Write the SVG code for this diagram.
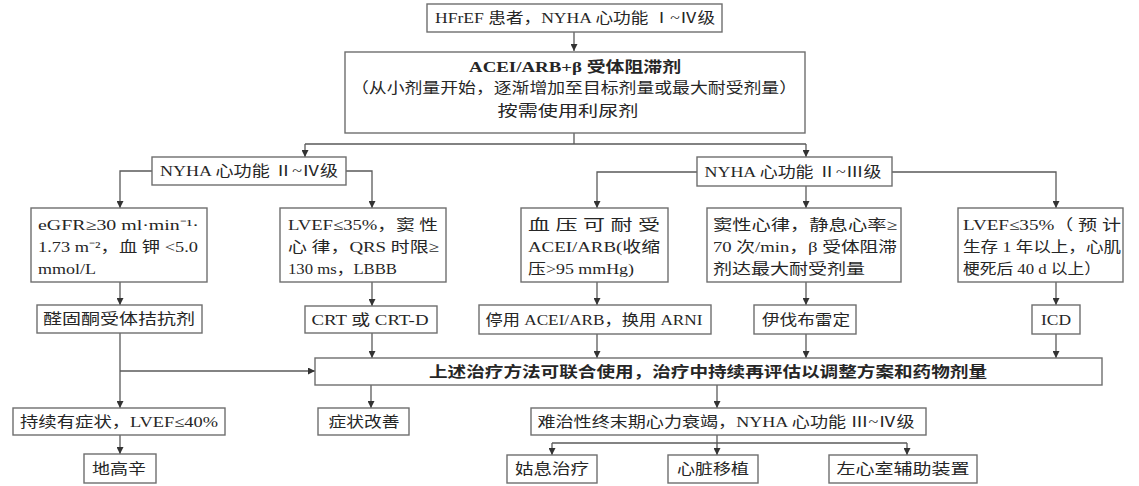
<svg xmlns="http://www.w3.org/2000/svg" width="1139" height="486" viewBox="0 0 1139 486">
<defs>
<marker id="ah" markerWidth="7" markerHeight="7" refX="7" refY="3.5" orient="auto" markerUnits="userSpaceOnUse">
<path d="M0,0 L7,3.5 L0,7 z" fill="#333"/>
</marker>
<style>
rect{fill:#fff;stroke:#6e6e6e;stroke-width:1.4}
text{font-family:"Liberation Serif","Noto Sans CJK SC",serif;font-size:15px;fill:#262626}
.c{text-anchor:middle}
.b{font-weight:bold}
#edges path{fill:none;stroke:#5a5a5a;stroke-width:1.3}
.a{marker-end:url(#ah)}
</style>
</defs>
<rect x="0" y="0" width="1139" height="486" style="fill:#fff;stroke:none"/>
<g id="edges">
<path class="a" d="M574,32 V51"/>
<path d="M574,133 V144 M305,144 H806"/>
<path class="a" d="M305,144 V157"/>
<path class="a" d="M806,144 V157"/>
<path class="a" d="M152,171 H120 V208"/>
<path class="a" d="M346,171 H372 V208"/>
<path class="a" d="M697,172 H597 V208"/>
<path class="a" d="M892,172 H1056 V208"/>
<path class="a" d="M806,186 V208"/>
<path class="a" d="M120,282 V305"/>
<path class="a" d="M372,282 V306"/>
<path class="a" d="M597,282 V305"/>
<path class="a" d="M806,282 V305"/>
<path class="a" d="M1056,282 V305"/>
<path class="a" d="M372,333 V358"/>
<path class="a" d="M597,334 V358"/>
<path class="a" d="M806,334 V358"/>
<path class="a" d="M1056,334 V358"/>
<path class="a" d="M120,333 V408"/>
<path class="a" d="M120,371 H315"/>
<path class="a" d="M120,435 V454"/>
<path class="a" d="M371,385 V408"/>
<path class="a" d="M717,385 V408"/>
<path class="a" d="M717,435 V455"/>
<path d="M552,443 H907"/>
<path class="a" d="M552,443 V455"/>
<path class="a" d="M907,443 V455"/>
</g>
<g id="n1"><rect x="427" y="4" width="295" height="28"/><text class="c" x="575" y="23" textLength="280" lengthAdjust="spacingAndGlyphs">HFrEF 患者，NYHA 心功能 Ⅰ~Ⅳ级</text></g>
<g id="n2"><rect x="345" y="52" width="460" height="81"/>
<text class="c b" x="575" y="72" textLength="212" lengthAdjust="spacingAndGlyphs">ACEI/ARB+β 受体阻滞剂</text>
<text class="c" x="574" y="93" textLength="446" lengthAdjust="spacingAndGlyphs">（从小剂量开始，逐渐增加至目标剂量或最大耐受剂量）</text>
<text class="c" x="568" y="116" textLength="141" lengthAdjust="spacingAndGlyphs">按需使用利尿剂</text></g>
<g id="n3"><rect x="152" y="157" width="194" height="28"/><text class="c" x="249" y="176" textLength="178" lengthAdjust="spacingAndGlyphs">NYHA 心功能 Ⅱ~Ⅳ级</text></g>
<g id="n4"><rect x="697" y="157" width="195" height="29"/><text class="c" x="793" y="177" textLength="177" lengthAdjust="spacingAndGlyphs">NYHA 心功能 Ⅱ~Ⅲ级</text></g>
<g id="n5"><rect x="31" y="208" width="176" height="74"/>
<text x="38" y="230" textLength="161" lengthAdjust="spacingAndGlyphs">eGFR≥30 ml·min⁻¹·</text>
<text x="38" y="252" textLength="160" lengthAdjust="spacingAndGlyphs">1.73  m⁻²，血 钾 &lt;5.0</text>
<text x="38" y="274" textLength="58" lengthAdjust="spacingAndGlyphs">mmol/L</text></g>
<g id="n6"><rect x="280" y="208" width="166" height="74"/>
<text x="288" y="230" textLength="150" lengthAdjust="spacingAndGlyphs">LVEF≤35%，窦 性</text>
<text x="288" y="252" textLength="151" lengthAdjust="spacingAndGlyphs">心 律，QRS 时限≥</text>
<text x="288" y="274" textLength="109" lengthAdjust="spacingAndGlyphs">130 ms，LBBB</text></g>
<g id="n7"><rect x="521" y="208" width="147" height="74"/>
<text x="528" y="230" textLength="132" lengthAdjust="spacingAndGlyphs">血 压 可 耐 受</text>
<text x="528" y="252" textLength="132" lengthAdjust="spacingAndGlyphs">ACEI/ARB(收缩</text>
<text x="528" y="274" textLength="106" lengthAdjust="spacingAndGlyphs">压&gt;95 mmHg)</text></g>
<g id="n8"><rect x="707" y="208" width="194" height="74"/>
<text x="713" y="230" textLength="184" lengthAdjust="spacingAndGlyphs">窦性心律，静息心率≥</text>
<text x="713" y="252" textLength="184" lengthAdjust="spacingAndGlyphs">70 次/min，β 受体阻滞</text>
<text x="713" y="274" textLength="152" lengthAdjust="spacingAndGlyphs">剂达最大耐受剂量</text></g>
<g id="n9"><rect x="958" y="208" width="165" height="74"/>
<text x="963" y="230" textLength="158" lengthAdjust="spacingAndGlyphs">LVEF≤35%（ 预 计</text>
<text x="963" y="252" textLength="158" lengthAdjust="spacingAndGlyphs">生存 1 年以上，心肌</text>
<text x="963" y="274" textLength="138" lengthAdjust="spacingAndGlyphs">梗死后 40 d 以上）</text></g>
<g id="n10"><rect x="37" y="305" width="165" height="28"/><text class="c" x="119" y="324" textLength="152" lengthAdjust="spacingAndGlyphs">醛固酮受体拮抗剂</text></g>
<g id="n11"><rect x="305" y="306" width="132" height="27"/><text class="c" x="370" y="325" textLength="117" lengthAdjust="spacingAndGlyphs">CRT 或 CRT-D</text></g>
<g id="n12"><rect x="479" y="305" width="232" height="29"/><text class="c" x="594" y="325" textLength="217" lengthAdjust="spacingAndGlyphs">停用 ACEI/ARB，换用 ARNI</text></g>
<g id="n13"><rect x="754" y="305" width="102" height="29"/><text class="c" x="806" y="325" textLength="88" lengthAdjust="spacingAndGlyphs">伊伐布雷定</text></g>
<g id="n14"><rect x="1032" y="305" width="48" height="29"/><text class="c" x="1056" y="325" textLength="30" lengthAdjust="spacingAndGlyphs">ICD</text></g>
<g id="n15"><rect x="315" y="358" width="787" height="27"/><text class="c b" x="708" y="377" textLength="558" lengthAdjust="spacingAndGlyphs">上述治疗方法可联合使用，治疗中持续再评估以调整方案和药物剂量</text></g>
<g id="n16"><rect x="13" y="408" width="212" height="27"/><text class="c" x="119" y="427" textLength="198" lengthAdjust="spacingAndGlyphs">持续有症状，LVEF≤40%</text></g>
<g id="n17"><rect x="318" y="408" width="91" height="27"/><text class="c" x="364" y="427" textLength="71" lengthAdjust="spacingAndGlyphs">症状改善</text></g>
<g id="n18"><rect x="531" y="408" width="395" height="27"/><text class="c" x="726" y="427" textLength="377" lengthAdjust="spacingAndGlyphs">难治性终末期心力衰竭，NYHA 心功能 Ⅲ~Ⅳ级</text></g>
<g id="n19"><rect x="84" y="454" width="72" height="29"/><text class="c" x="119" y="474" textLength="54" lengthAdjust="spacingAndGlyphs">地高辛</text></g>
<g id="n20"><rect x="507" y="455" width="90" height="28"/><text class="c" x="552" y="474" textLength="74" lengthAdjust="spacingAndGlyphs">姑息治疗</text></g>
<g id="n21"><rect x="668" y="455" width="90" height="28"/><text class="c" x="713" y="474" textLength="72" lengthAdjust="spacingAndGlyphs">心脏移植</text></g>
<g id="n22"><rect x="829" y="455" width="148" height="28"/><text class="c" x="903" y="474" textLength="133" lengthAdjust="spacingAndGlyphs">左心室辅助装置</text></g>
</svg>
